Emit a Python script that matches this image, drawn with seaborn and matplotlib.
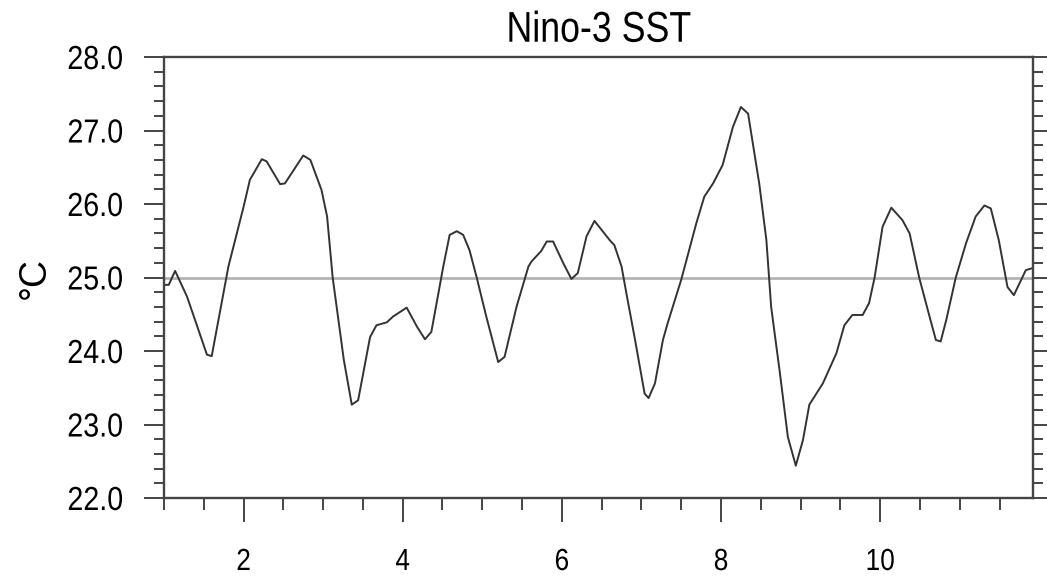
import matplotlib
matplotlib.use("Agg")
import matplotlib.pyplot as plt
from matplotlib.patheffects import AbstractPathEffect
from matplotlib.transforms import Affine2D
from matplotlib.ticker import MultipleLocator, FormatStrFormatter
import seaborn as sns

# values
months = [1.00, 1.06, 1.14, 1.29, 1.54, 1.60, 1.81, 2.00, 2.08, 2.23,
          2.29, 2.46, 2.52, 2.75, 2.84, 2.98, 3.05, 3.12, 3.26, 3.36,
          3.44, 3.59, 3.67, 3.80, 3.88, 4.05, 4.18, 4.28, 4.36, 4.51,
          4.59, 4.68, 4.76, 4.84, 4.93, 5.05, 5.20, 5.28, 5.43, 5.58,
          5.62, 5.74, 5.81, 5.89, 6.02, 6.12, 6.20, 6.31, 6.41, 6.60,
          6.66, 6.75, 6.81, 6.92, 7.04, 7.09, 7.17, 7.27, 7.33, 7.50,
          7.69, 7.79, 7.90, 8.02, 8.15, 8.25, 8.34, 8.48, 8.57, 8.63,
          8.74, 8.84, 8.94, 9.03, 9.11, 9.28, 9.45, 9.55, 9.65, 9.78,
          9.86, 9.93, 10.03, 10.14, 10.28, 10.37, 10.49, 10.62, 10.70, 10.76,
          10.83, 10.95, 11.08, 11.20, 11.31, 11.39, 11.49, 11.60, 11.68, 11.83, 11.92]
sst = [24.90, 24.90, 25.09, 24.74, 23.95, 23.93, 25.15, 25.96, 26.33, 26.61,
       26.58, 26.27, 26.28, 26.66, 26.60, 26.19, 25.83, 25.00, 23.88, 23.27,
       23.33, 24.19, 24.35, 24.39, 24.47, 24.59, 24.33, 24.16, 24.26, 25.15,
       25.58, 25.63, 25.58, 25.37, 25.00, 24.47, 23.85, 23.92, 24.60, 25.15,
       25.22, 25.36, 25.49, 25.49, 25.19, 24.98, 25.06, 25.56, 25.77, 25.51,
       25.44, 25.15, 24.79, 24.15, 23.42, 23.36, 23.56, 24.15, 24.38, 24.97,
       25.74, 26.10, 26.28, 26.53, 27.05, 27.32, 27.23, 26.28, 25.51, 24.60,
       23.70, 22.83, 22.44, 22.79, 23.27, 23.56, 23.97, 24.35, 24.49, 24.49,
       24.65, 25.00, 25.69, 25.95, 25.78, 25.60, 25.00, 24.47, 24.15, 24.13,
       24.42, 25.00, 25.47, 25.83, 25.98, 25.94, 25.51, 24.87, 24.76, 25.10, 25.13]
ref_level = 25.0
title = "Nino-3 SST"
ylabel = "°C"


class Squeeze(AbstractPathEffect):
    # the reference text is narrower than Liberation Sans, squeeze it sideways
    def __init__(self, sx=0.83, anchor="center"):
        super().__init__()
        self.sx = sx
        self.anchor = anchor

    def draw_path(self, renderer, gc, tpath, affine, rgbFace=None):
        ext = tpath.get_extents()
        if self.anchor == "right":
            x0 = ext.x1
        else:
            x0 = (ext.x0 + ext.x1) / 2
        t = Affine2D().translate(-x0, 0).scale(self.sx, 1).translate(x0, 0)
        renderer.draw_path(gc, tpath, t + affine, rgbFace)


sns.set_style("ticks")
plt.rcParams["font.family"] = ["Liberation Sans", "DejaVu Sans"]
plt.rcParams["text.color"] = "black"
plt.rcParams["xtick.labelcolor"] = "black"
plt.rcParams["ytick.labelcolor"] = "black"

fig = plt.figure(figsize=(10.47, 5.77), dpi=100)
ax = fig.add_axes([0.1566, 0.1369, 0.830, 0.7643])

ax.axhline(ref_level, color="#b4b4b4", linewidth=2.0, zorder=1)
sns.lineplot(x=months, y=sst, ax=ax, color="#333333", linewidth=1.4, zorder=2)

ax.set_xlim(1.0, 11.92)
ax.set_ylim(22.0, 28.0)
ax.xaxis.set_major_locator(MultipleLocator(2))
ax.xaxis.set_minor_locator(MultipleLocator(0.5))
ax.yaxis.set_major_locator(MultipleLocator(1))
ax.yaxis.set_minor_locator(MultipleLocator(0.2))
ax.yaxis.set_major_formatter(FormatStrFormatter("%.1f"))

for side in ["left", "right", "top", "bottom"]:
    ax.spines[side].set_visible(True)
    ax.spines[side].set_color("#444444")
    ax.spines[side].set_linewidth(1.7)

ax.tick_params(axis="y", which="both", direction="out", left=True, right=True,
               labelright=False, color="#444444", width=1.4)
ax.tick_params(axis="y", which="major", length=14.4, pad=15, labelsize=24)
ax.tick_params(axis="y", which="minor", length=7.2)
ax.tick_params(axis="x", which="both", direction="out", bottom=True, top=False,
               color="#444444", width=1.4)
ax.tick_params(axis="x", which="major", length=17.3, pad=18, labelsize=22)
ax.tick_params(axis="x", which="minor", length=8.6)

t = ax.set_title(title, fontsize=31, pad=11, color="black")
t.set_path_effects([Squeeze(0.83, "center")])
ax.set_ylabel(ylabel, fontsize=27, color="black")
ax.yaxis.set_label_coords(-0.128, 0.5)
ax.set_xlabel("")

fig.canvas.draw()
for lab in ax.get_yticklabels():
    lab.set_path_effects([Squeeze(0.86, "right")])
for lab in ax.get_xticklabels():
    lab.set_path_effects([Squeeze(0.86, "center")])

fig.savefig("out.png", dpi=100)
